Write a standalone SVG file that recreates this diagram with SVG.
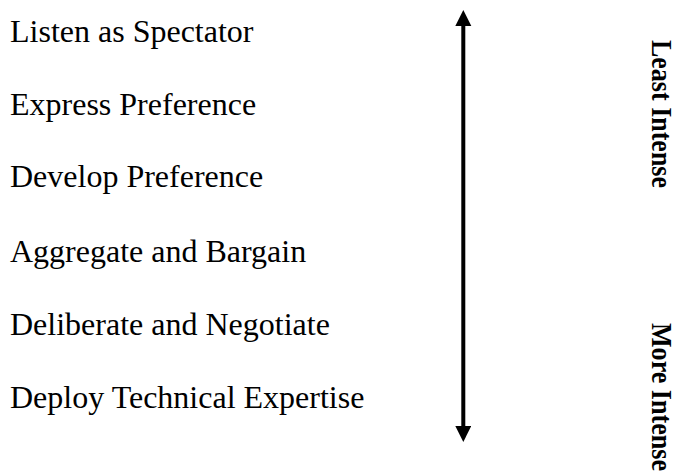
<svg xmlns="http://www.w3.org/2000/svg" width="675" height="474" viewBox="0 0 675 474">
  <style>
    .lbl { font-family: "Liberation Serif", "Times New Roman", serif; font-size: 32px; fill: #000; }
    .side { font-family: "Liberation Serif", "Times New Roman", serif; font-size: 30px; font-weight: bold; fill: #000; }
    .shaft { stroke: #000; stroke-width: 4; fill: none; }
  </style>
  <defs>
    <marker id="ah" markerUnits="userSpaceOnUse" markerWidth="16" markerHeight="17" viewBox="0 0 16 17" refX="1" refY="8" orient="auto-start-reverse">
      <path d="M0,0 L16,8 L0,16 Z" fill="#000"/>
    </marker>
  </defs>
  <rect width="675" height="474" fill="#fff"/>
  <g id="node-listen"><text class="lbl" x="10" y="42">Listen as Spectator</text></g>
  <g id="node-express"><text class="lbl" x="10" y="114.5">Express Preference</text></g>
  <g id="node-develop"><text class="lbl" x="10" y="187">Develop Preference</text></g>
  <g id="node-aggregate"><text class="lbl" x="10" y="261.5">Aggregate and Bargain</text></g>
  <g id="node-deliberate"><text class="lbl" x="10" y="335">Deliberate and Negotiate</text></g>
  <g id="node-deploy"><text class="lbl" x="10" y="408">Deploy Technical Expertise</text></g>
  <g id="connectors">
    <line class="shaft" x1="463.3" y1="25" x2="463.3" y2="427" marker-start="url(#ah)" marker-end="url(#ah)"/>
  </g>
  <g id="node-least"><text class="side" transform="translate(652,40) rotate(90)" textLength="148" lengthAdjust="spacingAndGlyphs">Least Intense</text></g>
  <g id="node-more"><text class="side" transform="translate(652,323) rotate(90)" textLength="148" lengthAdjust="spacingAndGlyphs">More Intense</text></g>
</svg>
